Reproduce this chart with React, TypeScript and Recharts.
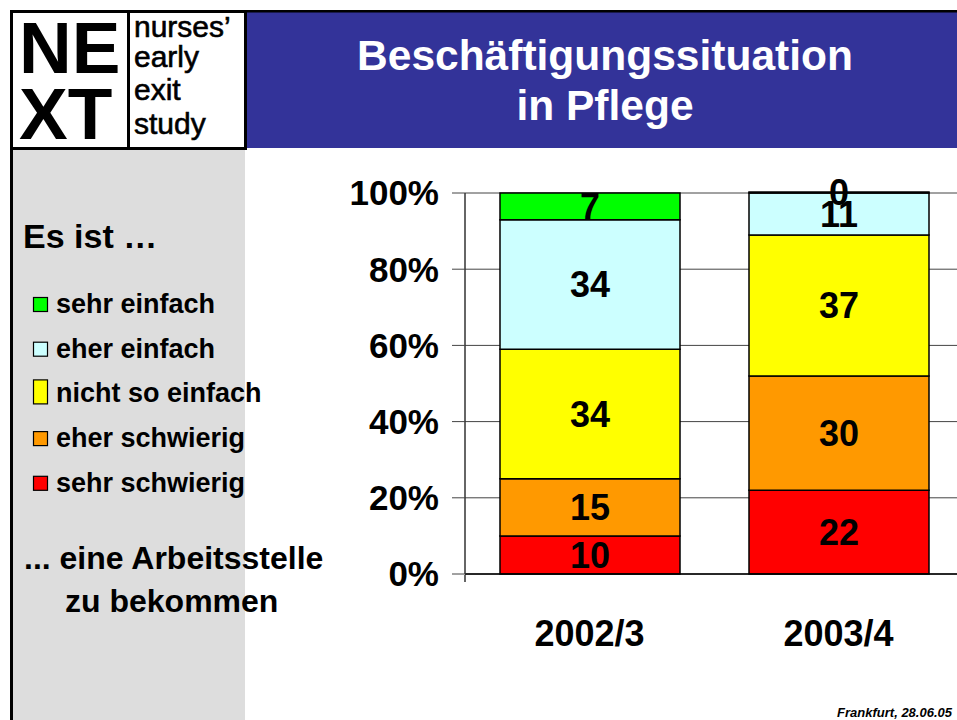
import React from 'react';
import { BarChart, Bar, XAxis, YAxis, CartesianGrid, LabelList, Legend } from 'recharts';

const FONT = '"Liberation Sans", Arial, Helvetica, sans-serif';

const categories = ['2002/3', '2003/4'];
const sehrSchwierig = [10, 22];
const eherSchwierig = [15, 30];
const nichtSoEinfach = [34, 37];
const eherEinfach = [34, 11];
const sehrEinfach = [7, 0];
const yTicks = [0, 20, 40, 60, 80, 100];
const boundaryTicks = [0, 1, 2];

const series = [
  { key: 'sehrSchwierig', name: 'sehr schwierig', color: '#FF0000', values: sehrSchwierig },
  { key: 'eherSchwierig', name: 'eher schwierig', color: '#FF9900', values: eherSchwierig },
  { key: 'nichtSoEinfach', name: 'nicht so einfach', color: '#FFFF00', values: nichtSoEinfach },
  { key: 'eherEinfach', name: 'eher einfach', color: '#CCFFFF', values: eherEinfach },
  { key: 'sehrEinfach', name: 'sehr einfach', color: '#00FF00', values: sehrEinfach },
];

const data = categories.map((c, i) => {
  const row: Record<string, string | number> = { category: c };
  series.forEach((s) => {
    row[s.key] = s.values[i];
  });
  return row;
});

const SegmentLabel = (props: any) => {
  const { x, y, width, height, value } = props;
  if (value === undefined || value === null) return null;
  const cx = Number(x) + Number(width) / 2;
  const cy = Number(y) + Number(height) / 2;
  return (
    <text
      x={cx}
      y={cy}
      dy="0.36em"
      textAnchor="middle"
      fill="#000"
      fontFamily={FONT}
      fontWeight="bold"
      fontSize={36}
    >
      {value}
    </text>
  );
};

const renderLegend = (props: any) => {
  const payload: any[] = props.payload || [];
  const items = series
    .slice()
    .reverse()
    .map((s) => {
      const p = payload.find((e) => e.dataKey === s.key);
      return { name: p?.value ?? s.name, color: p?.color ?? s.color, tall: s.key === 'nichtSoEinfach' };
    });
  return (
    <svg width={260} height={230} style={{ display: 'block' }}>
      {items.map((it, i) => {
        const by = 33 + i * 44.7;
        return (
          <g key={it.name}>
            <rect
              x={13.5}
              y={it.tall ? by - 22.5 : by - 15.5}
              width={14}
              height={it.tall ? 24 : 14}
              fill={it.color}
              stroke="#000"
              strokeWidth={1.2}
            />
            <text x={36} y={by} fontFamily={FONT} fontWeight="bold" fontSize={27} fill="#000">
              {it.name}
            </text>
          </g>
        );
      })}
    </svg>
  );
};

const Decor = () => (
  <svg width={957} height={720} style={{ position: 'absolute', left: 0, top: 0 }}>
    <rect x={0} y={0} width={957} height={720} fill="#FFFFFF" />
    <rect x={246} y={12} width={711} height={136} fill="#333399" />
    <rect x={10} y={10} width={947} height={2.5} fill="#000" />
    <rect x={13} y={149} width={232} height={571} fill="#DDDDDD" />
    <rect x={10} y={10} width={3} height={710} fill="#000" />
    <rect x={11.5} y={11.5} width={234} height={137} fill="#FFFFFF" stroke="#000" strokeWidth={3} />
    <rect x={127} y={11} width={3} height={138} fill="#000" />
    <text x={19} y={73} fontFamily={FONT} fontWeight="bold" fontSize={73} fill="#000">NE</text>
    <text x={19} y={139} fontFamily={FONT} fontWeight="bold" fontSize={73} fill="#000">XT</text>
    <text x={134} y={37} fontFamily={FONT} fontSize={30} fill="#000" stroke="#000" strokeWidth={0.6}>nurses’</text>
    <text x={134} y={67} fontFamily={FONT} fontSize={30} fill="#000" stroke="#000" strokeWidth={0.6}>early</text>
    <text x={134} y={100} fontFamily={FONT} fontSize={30} fill="#000" stroke="#000" strokeWidth={0.6}>exit</text>
    <text x={134} y={134} fontFamily={FONT} fontSize={30} fill="#000" stroke="#000" strokeWidth={0.6}>study</text>
    <text x={605} y={70} textAnchor="middle" fontFamily={FONT} fontWeight="bold" fontSize={42.5} fill="#FFFFFF">
      Beschäftigungssituation
    </text>
    <text x={605} y={120} textAnchor="middle" fontFamily={FONT} fontWeight="bold" fontSize={42.5} fill="#FFFFFF">
      in Pflege
    </text>
    <text x={23} y={248} fontFamily={FONT} fontWeight="bold" fontSize={34} fill="#000">Es ist …</text>
    <text x={24} y={569} fontFamily={FONT} fontWeight="bold" fontSize={32} fill="#000">... eine Arbeitsstelle</text>
    <text x={65} y={612} fontFamily={FONT} fontWeight="bold" fontSize={32} fill="#000">zu bekommen</text>
    <text
      x={952}
      y={717}
      textAnchor="end"
      fontFamily={FONT}
      fontWeight="bold"
      fontStyle="italic"
      fontSize={13}
      fill="#000"
    >
      Frankfurt, 28.06.05
    </text>
  </svg>
);

export default function App() {
  return (
    <div
      style={{
        position: 'fixed',
        left: 0,
        top: 0,
        width: 957,
        height: 720,
        overflow: 'hidden',
        background: '#fff',
        fontFamily: FONT,
      }}
    >
      <Decor />
      <div style={{ position: 'absolute', left: 0, top: 0 }}>
        <BarChart
          width={975}
          height={720}
          data={data}
          margin={{ top: 193, right: 12, bottom: 144, left: 365 }}
          barSize={180}
        >
          <CartesianGrid vertical={false} horizontal stroke="#444" strokeWidth={1} />
          <XAxis
            dataKey="category"
            type="category"
            height={1}
            tickLine={false}
            tickSize={0}
            tickMargin={46}
            axisLine={{ stroke: '#000', strokeWidth: 1.5 }}
            tick={{ fontSize: 36, fontWeight: 'bold', fill: '#000', fontFamily: FONT }}
            interval={0}
          />
          <XAxis
            xAxisId="bounds"
            type="number"
            domain={[0, 2]}
            ticks={boundaryTicks}
            height={1}
            axisLine={false}
            tickLine={{ stroke: '#333', strokeWidth: 1.5 }}
            tickSize={7}
            tickFormatter={() => ''}
            allowDataOverflow
          />
          <YAxis
            type="number"
            domain={[0, 100]}
            ticks={yTicks}
            width={100}
            tickSize={13}
            tickMargin={13}
            interval={0}
            tickFormatter={(v: number) => `${v}%`}
            axisLine={{ stroke: '#333', strokeWidth: 1.5 }}
            tickLine={{ stroke: '#444', strokeWidth: 1 }}
            tick={{ fontSize: 35, fontWeight: 'bold', fill: '#000', fontFamily: FONT }}
          />
          <Legend
            layout="vertical"
            align="center"
            verticalAlign="middle"
            content={renderLegend}
            wrapperStyle={{ position: 'absolute', left: 20, top: 280, width: 260, height: 230 }}
          />
          {series.map((s) => (
            <Bar
              key={s.key}
              dataKey={s.key}
              name={s.name}
              stackId="a"
              fill={s.color}
              stroke="#000"
              strokeWidth={1.5}
              minPointSize={1}
              isAnimationActive={false}
            >
              <LabelList dataKey={s.key} content={SegmentLabel} />
            </Bar>
          ))}
        </BarChart>
      </div>
    </div>
  );
}
